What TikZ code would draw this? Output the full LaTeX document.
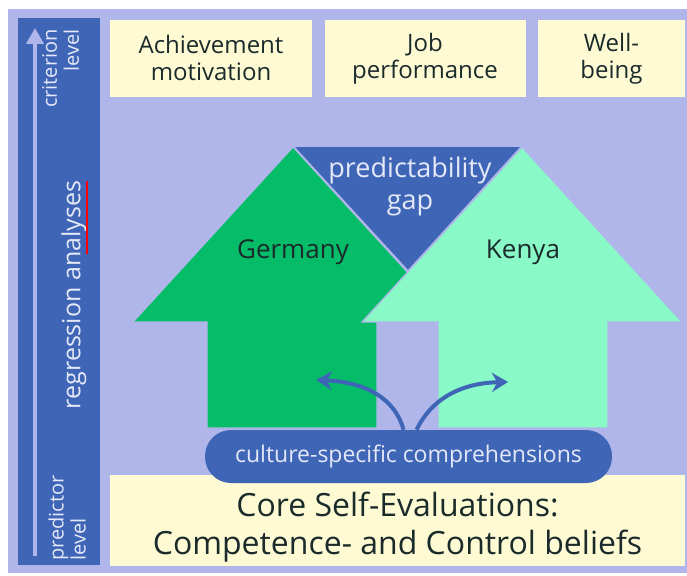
\documentclass[tikz,border=0pt]{standalone}
\usepackage{fontspec}
\setmainfont{Open Sans}
\usetikzlibrary{arrows.meta}

\definecolor{lavender}{HTML}{B1B6EA}
\definecolor{barblue}{HTML}{3F66B6}
\definecolor{cream}{HTML}{FEFAD4}
\definecolor{germgreen}{HTML}{05BD69}
\definecolor{kenmint}{HTML}{88F9C7}
\definecolor{paletext}{HTML}{E4E8F8}
\definecolor{darktext}{HTML}{1B2A2A}

\tikzset{
  levelbox/.style={
    fill=cream,
    inner sep=0pt,
    align=center,
    text=darktext,
  },
  bartext/.style={
    rotate=90,
    text=paletext,
    inner sep=0pt,
  },
  countrylabel/.style={
    text=darktext,
    font=\fontsize{26}{30}\selectfont,
  },
  bend arrow/.style={
    draw=barblue,
    line width=4pt,
    -{Stealth[length=16pt, width=19pt]},
  }
}

\begin{document}
\begin{tikzpicture}[x=1pt, y=-1pt]
    \useasboundingbox (0, 0) rectangle (687, 575);
    \fill[lavender] (8, 9) rectangle (687, 573);

    % left bar with the level axis
    \fill[barblue] (18, 18) rectangle (100, 565);
    \coordinate (axisbottom) at (35, 556);
    \coordinate (axistop) at (35, 28);
    \draw[lavender, line width=4pt, -{Triangle[length=16pt, width=17pt]}] (axisbottom) -- (axistop);
    \node[bartext, anchor=north east, align=right, font=\fontsize{20}{22}\selectfont] (crit) at (42, 29) {criterion\\level};
    \node[bartext, anchor=south west, align=left, font=\fontsize{20}{22}\selectfont] (pred) at (86, 561) {predictor\\level};
    \node[bartext, font=\fontsize{25}{30}\selectfont] (regr) at (74, 295) {regression analyses};
    \draw[red, line width=1.5pt] (87, 181) -- (87, 254);

    % criterion level
    \node[levelbox, minimum width=202pt, minimum height=77pt, font=\fontsize{24}{27}\selectfont] (achieve) at (211, 58.5) {Achievement\\motivation};
    \node[levelbox, minimum width=201pt, minimum height=77pt, font=\fontsize{24}{27}\selectfont] (jobperf) at (425, 58.5) {Job\\performance};
    \node[levelbox, minimum width=147pt, minimum height=77pt, font=\fontsize{24}{27}\selectfont] (wellbeing) at (611.5, 58.5) {Well-\\being};

    % predictor level
    \node[levelbox, minimum width=575pt, minimum height=91pt,
      label={[yshift=-7pt, align=center, text=darktext, font=\fontsize{32}{38}\selectfont]center:Core Self-Evaluations:\\Competence- and Control beliefs}] (cse) at (397.5, 520.5) {};

    % gap between the two arrows
    \fill[barblue, draw=lavender, line width=1.5pt] (293, 146) -- (522, 146) -- (408, 271) -- cycle;
    \node[text=paletext, align=center, font=\fontsize{27}{32}\selectfont] (gap) at (410, 186) {predictability\\gap};

    % country arrows
    \filldraw[germgreen, draw=lavender, line width=1.2pt] (207, 428) -- (207, 322) -- (133, 322) -- (293, 147) -- (453, 322) -- (377, 322) -- (377, 428) -- cycle;
    \filldraw[kenmint, draw=lavender, line width=1.2pt] (438, 428) -- (438, 322) -- (362, 322) -- (522, 147) -- (682, 322) -- (608, 322) -- (608, 428) -- cycle;
    \node[countrylabel] (germany) at (293, 252) {Germany};
    \node[countrylabel] (kenya) at (523, 252) {Kenya};

    % culture-specific comprehensions
    \node[fill=barblue, text=paletext, rounded corners=26pt, minimum width=407pt, minimum height=53pt, font=\fontsize{23}{27}\selectfont] (culture) at (408.5, 456.5) {culture-specific comprehensions};
    \coordinate (gertip) at (316, 380);
    \coordinate (kentip) at (508, 382);
    \draw[bend arrow] ([xshift=-5pt]culture.north) .. controls (395, 398) and (365, 382) .. (gertip);
    \draw[bend arrow] ([xshift=8pt]culture.north) .. controls (432, 398) and (462, 383) .. (kentip);

\end{tikzpicture}
\end{document}
